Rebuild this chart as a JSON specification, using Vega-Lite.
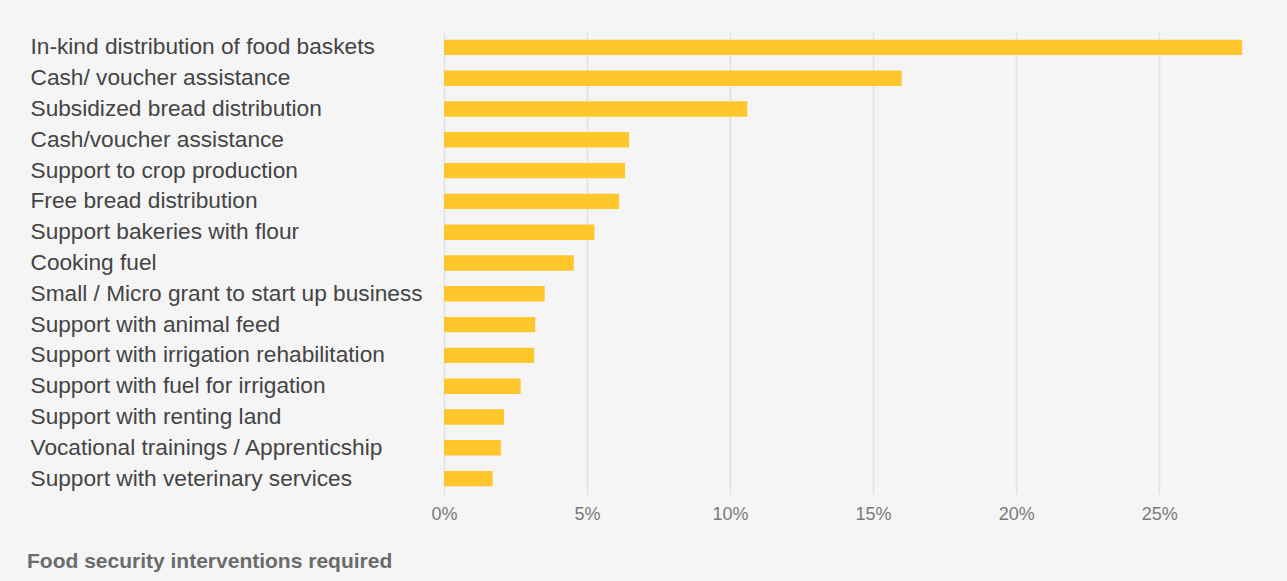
{
  "$schema": "https://vega.github.io/schema/vega-lite/v6.json",
  "width": 801,
  "height": 462,
  "autosize": {"type": "none"},
  "padding": {"left": 444, "top": 32, "right": 42, "bottom": 87},
  "background": "#f5f5f5",
  "title": {
    "text": "Food security interventions required",
    "orient": "bottom",
    "anchor": "start",
    "frame": "group",
    "dx": -417,
    "offset": 28,
    "font": "Liberation Sans",
    "fontSize": 21,
    "fontWeight": "bold",
    "color": "#6b6b6b"
  },
  "data": {
    "values": [
      {"intervention": "In-kind distribution of food baskets", "share": 27.9},
      {"intervention": "Cash/ voucher assistance", "share": 16.0},
      {"intervention": "Subsidized bread distribution", "share": 10.6},
      {"intervention": "Cash/voucher assistance", "share": 6.47},
      {"intervention": "Support to crop production", "share": 6.33},
      {"intervention": "Free bread distribution", "share": 6.12},
      {"intervention": "Support bakeries with flour", "share": 5.26},
      {"intervention": "Cooking fuel", "share": 4.54},
      {"intervention": "Small / Micro  grant to start up business", "share": 3.52},
      {"intervention": "Support with animal feed", "share": 3.19},
      {"intervention": "Support with irrigation rehabilitation", "share": 3.15},
      {"intervention": "Support with fuel for irrigation", "share": 2.68},
      {"intervention": "Support with renting land", "share": 2.10},
      {"intervention": "Vocational trainings / Apprenticship", "share": 1.99},
      {"intervention": "Support with veterinary services", "share": 1.70}
    ]
  },
  "mark": {"type": "bar", "color": "#ffc72c"},
  "encoding": {
    "y": {
      "field": "intervention",
      "type": "nominal",
      "sort": null,
      "scale": {"paddingInner": 0.5, "paddingOuter": 0.25},
      "axis": {
        "title": null,
        "domain": false,
        "ticks": false,
        "labelAlign": "left",
        "labelPadding": 414,
        "labelFont": "Liberation Sans",
        "labelFontSize": 22.7,
        "labelColor": "#444444",
        "labelLimit": 0
      }
    },
    "x": {
      "field": "share",
      "type": "quantitative",
      "scale": {"domain": [0, 28], "nice": false},
      "axis": {
        "title": null,
        "values": [0, 5, 10, 15, 20, 25],
        "labelExpr": "datum.value + '%'",
        "labelFlush": false,
        "domain": false,
        "ticks": false,
        "grid": true,
        "gridColor": "#e2e2e2",
        "gridWidth": 1.5,
        "labelPadding": 11,
        "labelFont": "Liberation Sans",
        "labelFontSize": 18,
        "labelColor": "#7a7a7a"
      }
    }
  },
  "config": {"view": {"stroke": null}}
}
